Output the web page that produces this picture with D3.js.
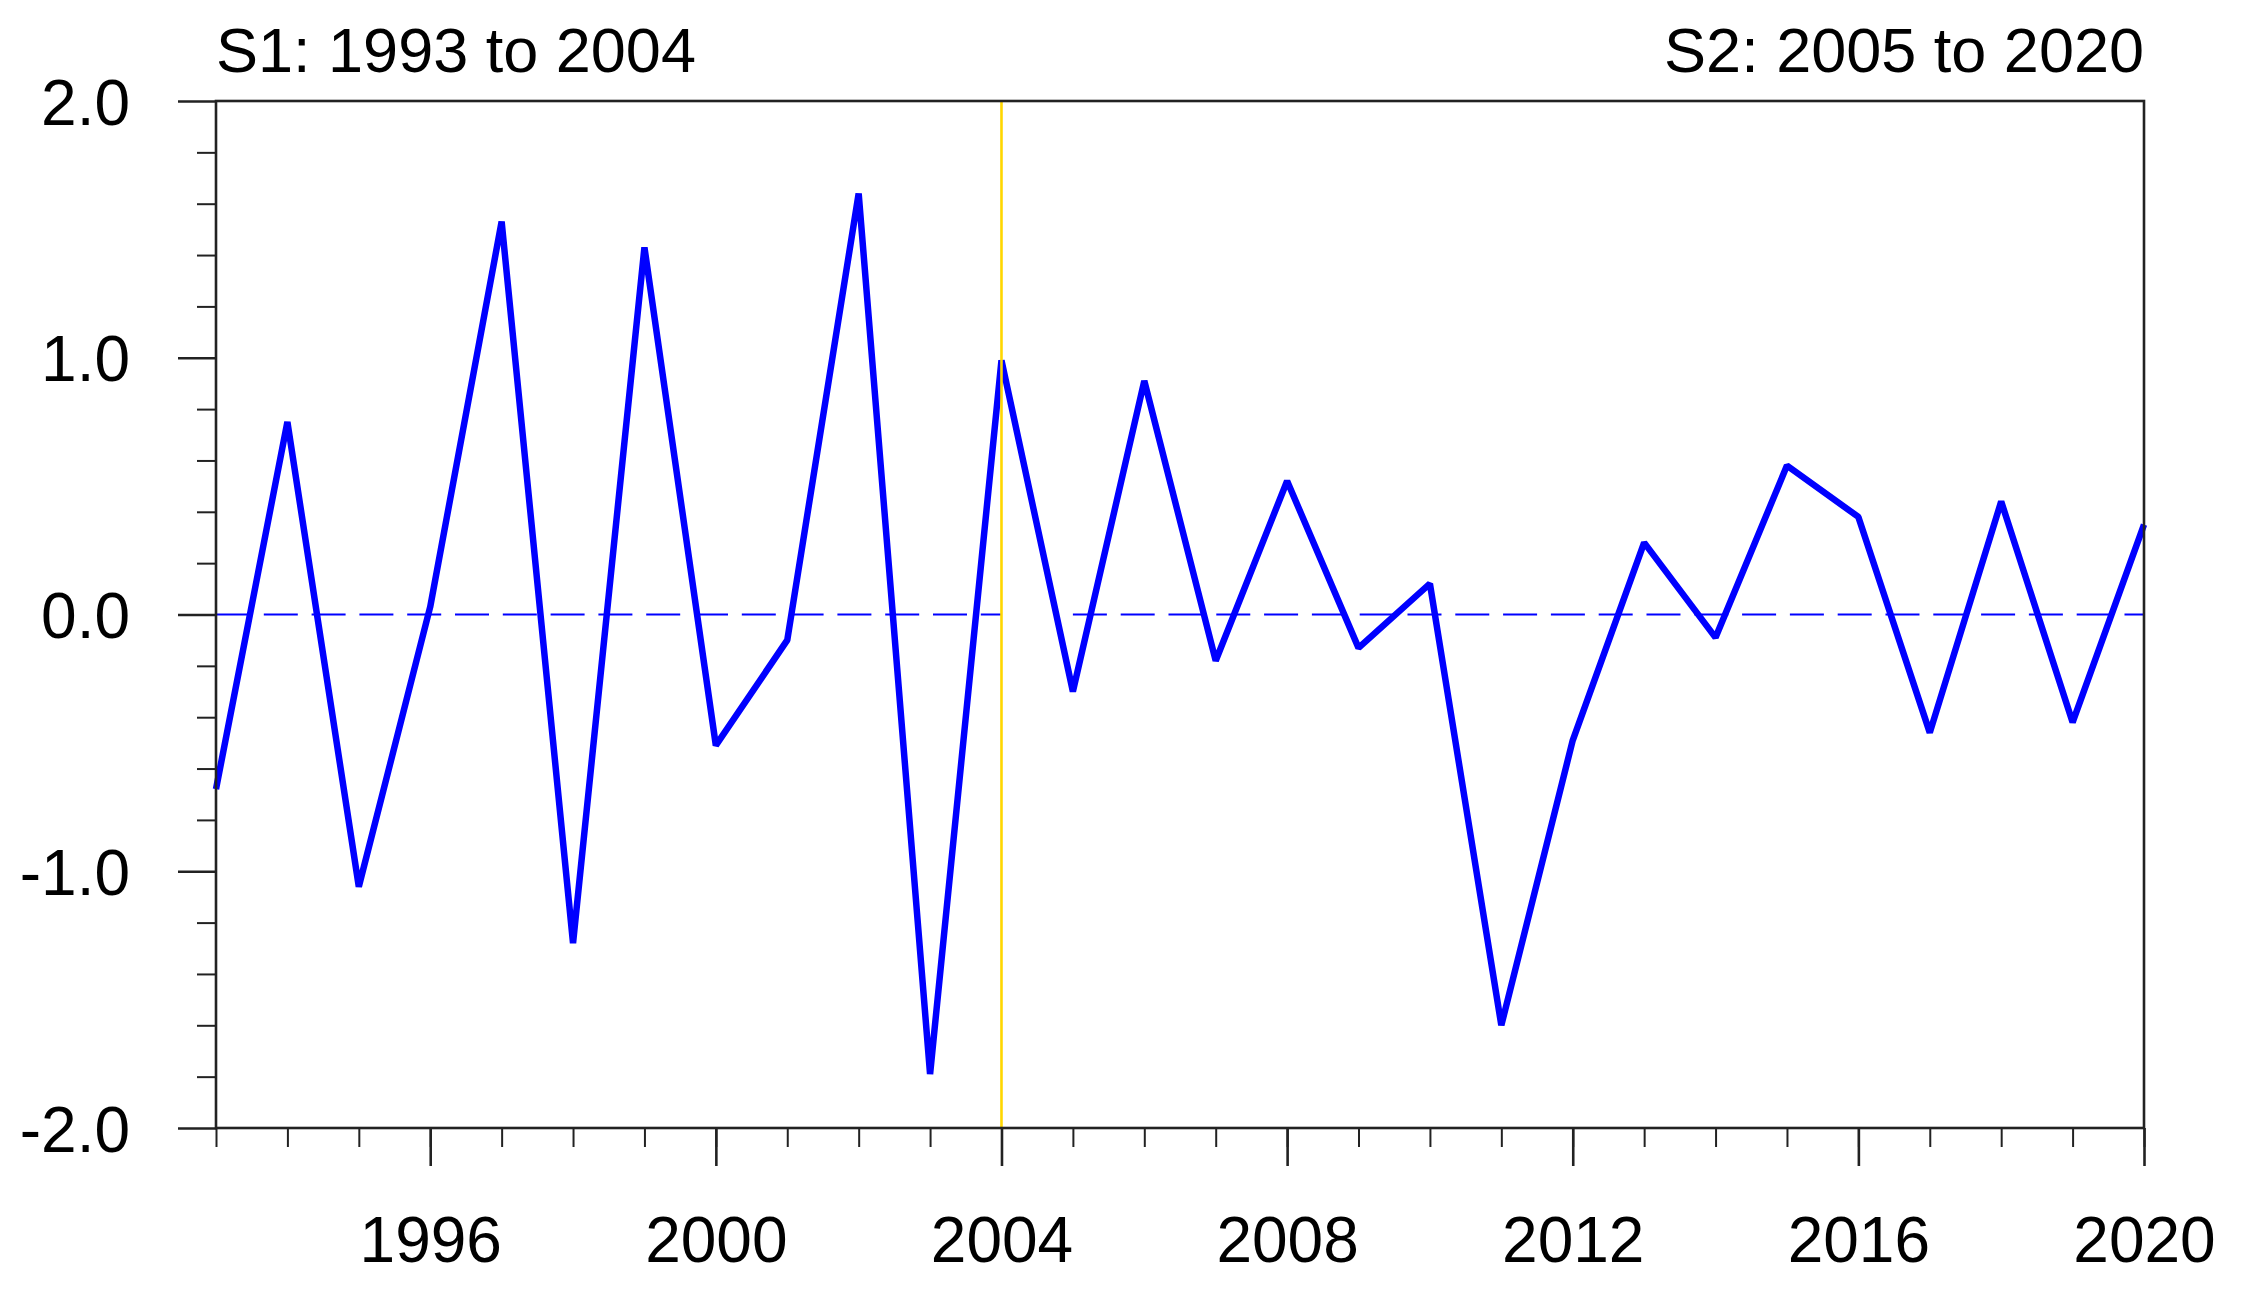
<!DOCTYPE html>
<html>
<head>
<meta charset="utf-8">
<script src="https://cdn.jsdelivr.net/npm/d3@7"></script>
<style>
  html, body { margin: 0; padding: 0; background: #ffffff; }
  svg { display: block; }
  text { font-family: "Liberation Sans", Arial, Helvetica, sans-serif; fill: #000; }
</style>
</head>
<body>
<svg id="chart" width="2243" height="1289"></svg>
<script>
// ---- data ----
const years = [1993, 1994, 1995, 1996, 1997, 1998, 1999, 2000, 2001, 2002, 2003, 2004, 2005, 2006,
               2007, 2008, 2009, 2010, 2011, 2012, 2013, 2014, 2015, 2016, 2017, 2018, 2019, 2020];
const values = [-0.68, 0.75, -1.06, 0.03, 1.53, -1.28, 1.43, -0.51, -0.10, 1.64, -1.79, 0.99, -0.30, 0.91,
                -0.18, 0.52, -0.13, 0.12, -1.60, -0.49, 0.28, -0.09, 0.58, 0.38, -0.46, 0.44, -0.42, 0.35];
const periodNames = ["S1: 1993 to 2004", "S2: 2005 to 2020"];
const periodStarts = [1993, 2005];
const periodEnds = [2004, 2020];
const splitYear = 2004;
const yMajorTicks = [-2, -1, 0, 1, 2];
const yTickLabels = ["-2.0", "-1.0", "0.0", "1.0", "2.0"];
const yMinorTicks = [-1.8, -1.6, -1.4, -1.2, -0.8, -0.6, -0.4, -0.2, 0.2, 0.4, 0.6, 0.8, 1.2, 1.4, 1.6, 1.8];
const xMajorTicks = [1996, 2000, 2004, 2008, 2012, 2016, 2020];
const xTickLabels = ["1996", "2000", "2004", "2008", "2012", "2016", "2020"];
const xMinorTicks = years;

// ---- layout ----
const L = 216, R = 2144, T = 101, B = 1128;
const svg = d3.select("#chart");
svg.append("rect").attr("width", 2243).attr("height", 1289).attr("fill", "#fff");

const x = d3.scaleLinear().domain([years[0], years[years.length - 1]]).range([L, R]);
const y = d3.scaleLinear().domain([-2, 2]).range([B, T]);

const axisColor = "#222";

// minor y ticks
const gyMinor = svg.append("g").attr("transform", `translate(${L},0)`)
  .call(d3.axisLeft(y).tickValues(yMinorTicks).tickSize(19).tickSizeOuter(0).tickFormat(""));
gyMinor.select(".domain").remove();
gyMinor.selectAll("line").attr("stroke", axisColor).attr("stroke-width", 2);

// major y ticks + labels
const gy = svg.append("g").attr("transform", `translate(${L},0)`)
  .call(d3.axisLeft(y).tickValues(yMajorTicks).tickSize(38).tickSizeOuter(0)
        .tickFormat((d, i) => yTickLabels[i]));
gy.select(".domain").remove();
gy.selectAll("line").attr("stroke", axisColor).attr("stroke-width", 2.6);
gy.selectAll("text").attr("x", -86).attr("dy", "0.36em")
  .style("font-size", "64px").style("font-family", '"Liberation Sans", Arial, sans-serif')
  .attr("fill", "#000");

// minor x ticks
const gxMinor = svg.append("g").attr("transform", `translate(0,${B})`)
  .call(d3.axisBottom(x).tickValues(xMinorTicks).tickSize(19).tickSizeOuter(0).tickFormat(""));
gxMinor.select(".domain").remove();
gxMinor.selectAll("line").attr("stroke", axisColor).attr("stroke-width", 2);

// major x ticks + labels
const gx = svg.append("g").attr("transform", `translate(0,${B})`)
  .call(d3.axisBottom(x).tickValues(xMajorTicks).tickSize(38).tickSizeOuter(0)
        .tickFormat((d, i) => xTickLabels[i]));
gx.select(".domain").remove();
gx.selectAll("line").attr("stroke", axisColor).attr("stroke-width", 2.6);
gx.selectAll("text").attr("y", 134).attr("dy", 0)
  .style("font-size", "64px").style("font-family", '"Liberation Sans", Arial, sans-serif')
  .attr("fill", "#000");

// zero reference lines per period (dashed)
svg.append("g").selectAll("line").data(periodStarts).join("line")
  .attr("x1", d => x(d)).attr("x2", (d, i) => x(periodEnds[i]))
  .attr("y1", y(0)).attr("y2", y(0))
  .attr("stroke", "#0000ff").attr("stroke-width", 2.2)
  .attr("stroke-dasharray", "34,13.8");

// series line
const line = d3.line().x((d, i) => x(years[i])).y(d => y(d));
svg.append("path").datum(values)
  .attr("d", line)
  .attr("fill", "none")
  .attr("stroke", "#0000ff")
  .attr("stroke-width", 6.5)
  .attr("stroke-linejoin", "bevel");

// split marker
svg.append("line")
  .attr("x1", x(splitYear)).attr("x2", x(splitYear))
  .attr("y1", y(2)).attr("y2", y(-2))
  .attr("stroke", "#ffd700").attr("stroke-width", 2.6);

// frame
svg.append("rect")
  .attr("x", L).attr("y", T).attr("width", R - L).attr("height", B - T)
  .attr("fill", "none").attr("stroke", axisColor).attr("stroke-width", 2.6);

// period titles
svg.append("text").attr("x", L).attr("y", 72).attr("text-anchor", "start")
  .style("font-size", "63px").text(periodNames[0]);
svg.append("text").attr("x", R).attr("y", 72).attr("text-anchor", "end")
  .style("font-size", "63px").text(periodNames[1]);
</script>
</body>
</html>
